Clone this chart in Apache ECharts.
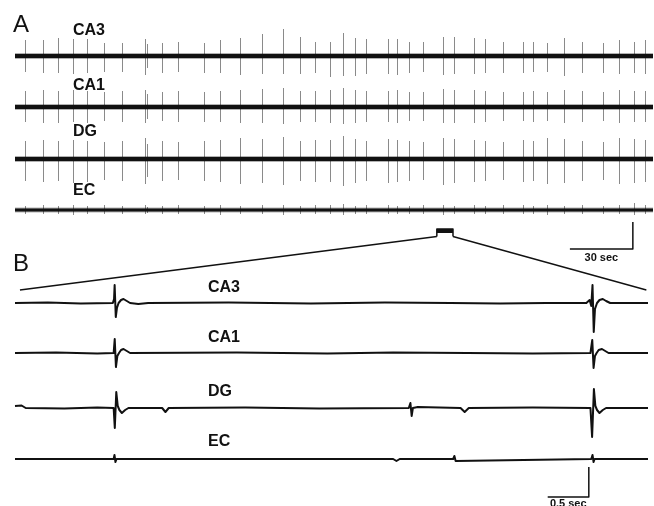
<!DOCTYPE html>
<html>
<head>
<meta charset="utf-8">
<script src="https://cdn.jsdelivr.net/npm/echarts@6/dist/echarts.min.js"></script>
<style>html,body{margin:0;background:#fff}#chart{width:654px;height:506px}</style>
</head>
<body>
<div id="chart"></div>
<script>
(function () {
  "use strict";

  var channels = ["CA3", "CA1", "DG", "EC"];

  // panel A: spike times (s) shared by all channels, amplitudes per channel
  var spikeTimesA = [4.8, 13.3, 20.5, 27.6, 34.3, 42.4, 51.0, 61.9, 62.9, 70.0, 77.7, 90.0, 97.7, 107.2, 117.7, 127.7, 135.8, 142.9,
    150.1, 156.3, 162.0, 167.2, 177.7, 182.0, 187.7, 194.4, 203.9, 209.1, 218.7, 223.9, 232.5, 242.0, 246.8, 253.4, 261.6, 270.1, 280.1, 287.7, 294.9, 300.1];
  var ca3Up = [16, 16, 18, 17, 17, 13, 13, 17, 12, 13, 14, 13, 16, 18, 22, 27, 19, 14, 14, 23, 18, 17, 17, 17, 14, 14, 19, 19, 18, 17, 14, 14, 14, 13, 18, 14, 13, 16, 14, 16];
  var ca3Down = [16, 17, 17, 18, 17, 16, 16, 19, 12, 17, 16, 17, 17, 19, 18, 18, 18, 17, 21, 20, 20, 18, 18, 19, 17, 16, 19, 18, 18, 17, 17, 17, 16, 16, 20, 17, 17, 18, 17, 18];
  var ca1Up = [16, 17, 16, 17, 16, 15, 16, 17, 13, 15, 16, 15, 16, 17, 18, 19, 16, 16, 17, 19, 17, 16, 16, 17, 15, 15, 18, 17, 17, 16, 15, 15, 16, 15, 17, 16, 15, 17, 16, 16];
  var ca1Down = [15, 16, 16, 15, 16, 14, 15, 16, 12, 14, 15, 15, 15, 16, 16, 17, 15, 15, 16, 17, 16, 15, 15, 16, 14, 14, 16, 16, 16, 15, 14, 14, 15, 14, 16, 15, 14, 16, 15, 15];
  var dgUp = [18, 19, 18, 19, 18, 17, 18, 21, 15, 18, 17, 18, 19, 21, 20, 22, 18, 19, 19, 23, 20, 18, 20, 19, 18, 17, 21, 20, 19, 18, 17, 19, 18, 21, 20, 18, 17, 21, 20, 19];
  var dgDown = [22, 23, 22, 24, 23, 21, 22, 25, 18, 22, 21, 22, 23, 25, 24, 26, 22, 23, 23, 27, 24, 22, 24, 23, 22, 21, 26, 24, 23, 22, 21, 23, 22, 25, 24, 22, 21, 25, 24, 23];
  var ecUp = [4, 5, 4, 5, 4, 5, 4, 5, 3, 4, 5, 4, 5, 4, 5, 5, 4, 5, 5, 6, 4, 5, 5, 4, 4, 5, 5, 4, 5, 4, 5, 5, 4, 5, 4, 5, 4, 5, 7, 5];
  var ecDown = [4, 4, 4, 5, 4, 4, 4, 4, 3, 4, 4, 4, 5, 4, 4, 5, 4, 4, 4, 5, 4, 4, 4, 4, 4, 4, 5, 4, 4, 4, 4, 4, 4, 5, 4, 4, 4, 4, 5, 4];
  var durationA = 304;
  var zoomWindowA = [201.0, 208.7];
  var scaleBarA = [[264.4, -39], [294.4, -39], [294.4, -12]];

  // panel B: expanded 7.7 s window, [time s, amplitude]
  var durationB = 7.7;
  var traceBCA3 = [[0, 0], [0.4, 0.6], [0.8, -0.4], [1.19, 0], [1.205, 4], [1.212, 18], [1.226, -14], [1.24, -5], [1.26, 0], [1.29, 3], [1.32, 4], [1.36, 2], [1.4, 0], [1.5, -1], [1.62, 0],
    [2.6, 0.5], [3.6, -0.5], [4.5, 0.5], [5.3, 0], [5.9, -0.5], [6.46, 0], [6.47, 2], [6.48, -1.5], [6.5, 0], [6.95, 0], [6.99, 3], [7.01, -3], [7.025, 18], [7.04, -29], [7.055, -6], [7.08, 0],
    [7.11, 3], [7.15, 4], [7.19, 2], [7.24, 0], [7.7, 0]];
  var traceBCA1 = [[0, 0], [0.5, 0.5], [1.0, -0.4], [1.2, 0], [1.213, 14], [1.228, -14], [1.245, -3], [1.265, 0], [1.29, 3], [1.32, 4], [1.36, 2], [1.4, 0], [2.7, 0.5], [3.8, -0.4],
    [4.6, 0.6], [5.5, 0], [6.3, -0.4], [7.0, 0], [7.022, 13], [7.038, -15], [7.055, -3], [7.075, 0], [7.1, 3], [7.14, 4], [7.18, 2], [7.22, 0], [7.7, 0]];
  var traceBDG = [[0, 2], [0.08, 2.5], [0.13, 0], [0.6, -0.5], [1.0, 0.5], [1.2, 0], [1.214, -20], [1.232, 16], [1.25, 2], [1.27, -2], [1.3, -5], [1.34, -2], [1.38, 0], [1.79, 0], [1.83, -4],
    [1.87, 0], [2.8, 0.5], [3.7, -0.5], [4.79, 0], [4.81, 5], [4.825, -8], [4.84, 0], [4.9, 1], [5.42, 0], [5.47, -4], [5.52, 0], [6.3, 0.5], [7.0, 0], [7.02, -29], [7.042, 19], [7.06, 2],
    [7.08, -2], [7.11, -5], [7.15, -2], [7.19, 0], [7.7, 0]];
  var traceBEC = [[0, 0], [1.2, 0], [1.21, 4], [1.222, -3], [1.235, 0], [4.6, 0], [4.64, -2], [4.68, 0], [5.33, 0], [5.345, 3], [5.36, -2], [5.375, 0],
    [7.01, 0], [7.025, 4], [7.038, -3], [7.05, 0], [7.7, 0]];
  var scaleBarB = [[6.48, -38], [6.98, -38], [6.98, -8]];

  var upA = [ca3Up, ca1Up, dgUp, ecUp];
  var downA = [ca3Down, ca1Down, dgDown, ecDown];
  var tracesB = [traceBCA3, traceBCA1, traceBDG, traceBEC];

  var font = "'Liberation Sans', Arial, Helvetica, sans-serif";
  var ink = "#111";

  var gridTopA = [26, 77, 129, 180], gridHA = [60, 60, 60, 80];
  var yMinA = [-30, -30, -30, -50], yMaxA = [30, 30, 30, 30];
  var gridTopB = [273, 323, 378, 430], gridHB = [60, 60, 60, 76];
  var yMinB = [-30, -30, -30, -47], yMaxB = [30, 30, 30, 29];

  var grid = [], xAxis = [], yAxis = [], series = [];
  channels.forEach(function (ch, i) {
    grid.push({ left: 15, width: 638, top: gridTopA[i], height: gridHA[i] });
    xAxis.push({ type: "value", gridIndex: i, min: 0, max: durationA, show: false });
    yAxis.push({ type: "value", gridIndex: i, min: yMinA[i], max: yMaxA[i], show: false });
  });
  channels.forEach(function (ch, i) {
    grid.push({ left: 15, width: 633, top: gridTopB[i], height: gridHB[i] });
    xAxis.push({ type: "value", gridIndex: 4 + i, min: 0, max: durationB, show: false });
    yAxis.push({ type: "value", gridIndex: 4 + i, min: yMinB[i], max: yMaxB[i], show: false });
  });

  function spikeItem(params, api) {
    var top = api.coord([api.value(0), api.value(1)]);
    var bot = api.coord([api.value(0), api.value(2)]);
    var x = Math.round(top[0]) + 0.5;
    return { type: "line", shape: { x1: x, y1: top[1], x2: x, y2: bot[1] }, style: { stroke: "#8a8a8a", lineWidth: 1 } };
  }

  function lineSeries(idx, data, width, color) {
    return { type: "line", xAxisIndex: idx, yAxisIndex: idx, data: data, symbol: "none", clip: false, silent: true,
      lineStyle: { width: width, color: color, join: "round" }, z: 3 };
  }

  channels.forEach(function (ch, i) {
    var spikes = spikeTimesA.map(function (t, k) { return [t, upA[i][k], -downA[i][k]]; });
    series.push({ type: "custom", xAxisIndex: i, yAxisIndex: i, data: spikes, renderItem: spikeItem, encode: { x: 0, y: [1, 2] }, silent: true, z: 2 });
    var base = [[0, 0], [durationA, 0]];
    var w = i === 3 ? 3 : 4;
    series.push(lineSeries(i, base, w + 2, "rgba(0,0,0,0.3)"));
    series.push(lineSeries(i, base, w, ink));
  });
  channels.forEach(function (ch, i) {
    series.push(lineSeries(4 + i, tracesB[i], 2, ink));
  });
  // zoom bracket + scale bars
  series.push(lineSeries(3, [[zoomWindowA[0], -26.5], [zoomWindowA[0], -19], [zoomWindowA[1], -19], [zoomWindowA[1], -26.5]], 1.5, ink));
  series.push(lineSeries(3, [[zoomWindowA[0], -21], [zoomWindowA[1], -21]], 4, ink));
  series.push(lineSeries(3, scaleBarA, 1.5, ink));
  series.push(lineSeries(7, scaleBarB, 1.5, ink));

  var chart = echarts.init(document.getElementById("chart"));
  chart.setOption({ animation: false, grid: grid, xAxis: xAxis, yAxis: yAxis, series: series });

  function txt(x, y, text, size, weight, align) {
    return { type: "text", x: x, y: y, silent: true, z: 10,
      style: { text: text, fontSize: size, fontWeight: weight, fontFamily: font, fill: ink,
        textAlign: align || "left", align: align || "left", textVerticalAlign: "middle", verticalAlign: "middle" } };
  }

  var pl = chart.convertToPixel({ gridIndex: 3 }, [zoomWindowA[0], -26.5]);
  var pr = chart.convertToPixel({ gridIndex: 3 }, [zoomWindowA[1], -26.5]);
  var bl = chart.convertToPixel({ gridIndex: 4 }, [0.06, 13]);
  var br = chart.convertToPixel({ gridIndex: 4 }, [durationB - 0.02, 13]);
  var sa = chart.convertToPixel({ gridIndex: 3 }, [(scaleBarA[0][0] + scaleBarA[1][0]) / 2, -47.5]);
  var sb = chart.convertToPixel({ gridIndex: 7 }, [(scaleBarB[0][0] + scaleBarB[1][0]) / 2, -44.5]);

  var labelYA = [31, 86, 132, 191], labelYB = [288, 338, 392, 442];
  var elements = [
    { type: "line", silent: true, shape: { x1: pl[0], y1: pl[1], x2: bl[0], y2: bl[1] }, style: { stroke: ink, lineWidth: 1.3 } },
    { type: "line", silent: true, shape: { x1: pr[0], y1: pr[1], x2: br[0], y2: br[1] }, style: { stroke: ink, lineWidth: 1.3 } },
    txt(13, 25, "A", 24, "normal"),
    txt(13, 264, "B", 24, "normal"),
    txt(sa[0], sa[1], "30 sec", 11, "bold", "center"),
    txt(sb[0], sb[1], "0.5 sec", 11, "bold", "center")
  ];
  channels.forEach(function (ch, i) {
    elements.push(txt(73, labelYA[i], ch, 16, "bold"));
    elements.push(txt(208, labelYB[i], ch, 16, "bold"));
  });
  chart.setOption({ graphic: { elements: elements } });
})();
</script>
</body>
</html>
